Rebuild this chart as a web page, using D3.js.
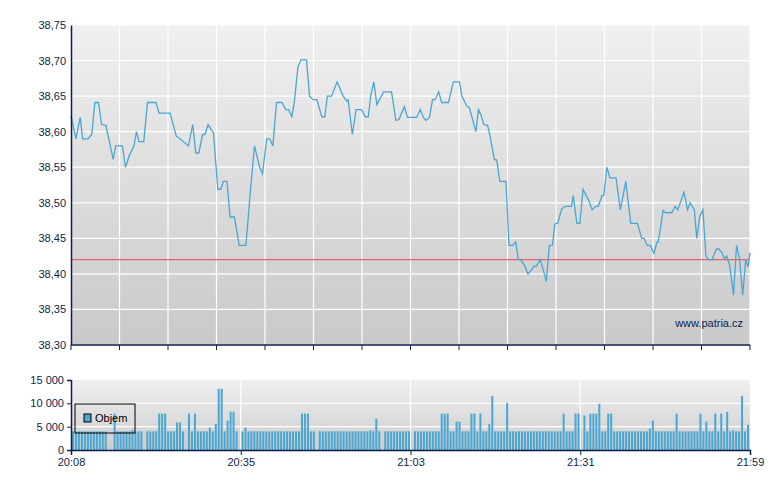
<!DOCTYPE html>
<html><head><meta charset="utf-8">
<script src="https://cdn.jsdelivr.net/npm/d3@7"></script>
<style>body{margin:0;background:#fff}svg{display:block;font-family:"Liberation Sans",Arial,sans-serif}</style>
</head><body><svg id="c" width="780" height="490"></svg>
<script>
const priceMinutes=[0,0.8,1.5,1.9,2.8,3.4,3.9,4.5,5.0,5.7,6.9,7.3,8.4,8.9,9.6,10.3,10.7,11.1,11.9,12.5,13.9,14.4,16.2,17.2,17.8,19.2,19.9,20.4,20.9,21.5,21.9,22.4,23.3,24.0,24.5,24.9,25.5,26.0,26.7,27.5,28.6,29.3,30.0,30.8,31.3,32.0,32.5,33.0,33.6,34.5,35.1,35.6,36.1,36.5,37.1,37.6,38.5,39.0,39.6,40.2,41.0,41.5,41.9,42.6,43.5,44.5,45.1,45.3,46.0,46.6,47.5,48.1,48.6,49.0,49.5,50.0,51.1,52.4,53.1,53.6,54.5,55.0,56.5,57.1,57.6,58.0,58.6,59.1,59.5,60.1,60.6,61.7,62.5,63.5,63.9,64.7,65.1,65.5,66.2,66.6,67.0,67.5,68.1,68.5,69.2,69.6,70.1,71.1,71.6,72.2,72.7,73.1,73.6,74.2,74.7,75.2,75.7,76.1,76.7,77.2,77.7,78.2,78.7,79.1,79.6,80.2,80.8,81.8,82.1,82.7,83.2,83.7,84.7,85.2,85.8,86.2,86.8,87.1,87.6,88.1,89.1,89.8,90.7,91.5,92.6,93.3,93.7,94.2,94.7,95.3,95.8,96.0,96.8,97.2,98.2,98.8,99.2,100.2,100.8,101.2,101.9,102.3,102.8,103.3,103.8,104.3,104.8,105.5,105.9,106.4,106.8,107.2,107.7,108.3,108.8,109.3,109.8,110.3,110.7,111];
const prices=[38.622,38.590,38.620,38.590,38.590,38.596,38.641,38.641,38.610,38.609,38.561,38.580,38.580,38.550,38.568,38.580,38.600,38.586,38.586,38.641,38.641,38.626,38.626,38.594,38.590,38.580,38.610,38.570,38.570,38.596,38.596,38.610,38.598,38.519,38.519,38.530,38.530,38.480,38.480,38.440,38.440,38.514,38.580,38.551,38.541,38.590,38.590,38.580,38.641,38.641,38.631,38.631,38.621,38.641,38.691,38.701,38.701,38.650,38.645,38.645,38.621,38.621,38.650,38.650,38.670,38.650,38.643,38.645,38.596,38.631,38.631,38.621,38.621,38.651,38.670,38.638,38.656,38.656,38.616,38.617,38.635,38.620,38.620,38.631,38.620,38.616,38.620,38.645,38.645,38.656,38.641,38.641,38.670,38.670,38.650,38.636,38.634,38.622,38.600,38.631,38.624,38.610,38.609,38.594,38.561,38.560,38.530,38.530,38.440,38.440,38.445,38.421,38.419,38.411,38.400,38.405,38.411,38.411,38.420,38.406,38.389,38.440,38.440,38.470,38.472,38.491,38.495,38.495,38.510,38.471,38.471,38.519,38.502,38.490,38.495,38.495,38.510,38.510,38.550,38.535,38.535,38.490,38.530,38.471,38.471,38.450,38.450,38.440,38.440,38.429,38.445,38.445,38.489,38.486,38.486,38.495,38.490,38.515,38.490,38.500,38.490,38.450,38.481,38.490,38.425,38.420,38.420,38.435,38.435,38.430,38.421,38.425,38.411,38.370,38.440,38.421,38.370,38.420,38.410,38.430];
const refPrice=38.42;
const priceTicks=[38.30,38.35,38.40,38.45,38.50,38.55,38.60,38.65,38.70,38.75];
const volumes=[4000,4000,4000,4000,4000,4000,4000,4000,4000,4000,
4000,4000,0,0,7800,4000,4000,4000,4000,4000,
4300,4000,4000,4000,0,4000,4000,4000,4000,7800,
7800,7800,4000,4000,4000,5900,5900,4000,0,7800,
4000,7800,4000,4000,4000,4000,4800,4000,5600,13100,
13100,4000,6300,8200,8200,4000,0,4000,4800,4000,
4000,4000,4000,4000,4000,4000,4000,4000,4000,4000,
4000,4000,4000,4000,4000,4000,4000,7800,7800,7800,
4000,4000,0,4000,4000,4000,4000,4000,4000,4000,
4000,4000,4000,4000,4000,4000,4000,4000,4000,4000,
4200,4000,6700,4000,0,4000,4000,4000,4000,4000,
4000,4000,4000,4000,0,4000,4000,4000,4000,4000,
4000,4000,4000,4000,7800,7800,7800,4000,4000,6100,
6100,4000,4000,4000,7800,7800,4000,7800,4000,4000,
5600,11600,4000,4000,4000,4000,10100,4000,4000,4000,
4000,4000,4000,4000,4000,4000,4000,4000,4000,4000,
4000,4000,4000,4000,4000,7800,4000,4000,4000,7800,
7800,0,7400,4000,7800,7800,7800,9900,4000,4000,
7800,7800,4000,4000,4000,4000,4000,4000,4000,4000,
4000,4000,4000,4000,4600,6300,4000,4000,4000,4000,
4000,4000,4000,7800,4000,4000,4000,4000,4000,4000,
4000,7800,4000,6100,4000,4000,7800,4000,7800,4000,
8200,4000,4200,4000,4000,11600,4000,5400];
const volTicks=[0,5000,10000,15000];
const timeLabels=["20:08","20:35","21:03","21:31","21:59"];

const svg=d3.select("#c");
const L=71,R=750,T=25,B=345,VT=380,VB=450;
const navy="#0b1f4e";
const defs=svg.append("defs");
const g1=defs.append("linearGradient").attr("id","g1").attr("x1",0).attr("x2",0).attr("y1",0).attr("y2",1);
g1.append("stop").attr("offset",0).attr("stop-color","#f0f0f0");
g1.append("stop").attr("offset",1).attr("stop-color","#c9c9c9");
const g2=defs.append("linearGradient").attr("id","g2").attr("x1",0).attr("x2",0).attr("y1",0).attr("y2",1);
g2.append("stop").attr("offset",0).attr("stop-color","#f0f0f0");
g2.append("stop").attr("offset",1).attr("stop-color","#cccccc");

const x=d3.scaleLinear().domain([0,111]).range([L,R]);
const y=d3.scaleLinear().domain([38.30,38.75]).range([B,T]);
svg.append("rect").attr("x",L).attr("y",T).attr("width",R-L).attr("height",B-T).attr("fill","url(#g1)");
// grid
priceTicks.forEach(v=>svg.append("line").attr("x1",L).attr("x2",R).attr("y1",y(v)).attr("y2",y(v)).attr("stroke","#fff").attr("stroke-width",1.2));
const vgrid=d3.range(0,15).map(i=>L+(R-L)*i/14);
vgrid.forEach(px=>{svg.append("line").attr("x1",px).attr("x2",px).attr("y1",T).attr("y2",B).attr("stroke","#fff").attr("stroke-width",1.2);
 svg.append("line").attr("x1",px).attr("x2",px).attr("y1",B).attr("y2",B+5).attr("stroke",navy);});
svg.append("line").attr("x1",L).attr("x2",R).attr("y1",y(refPrice)).attr("y2",y(refPrice)).attr("stroke","#e06666").attr("stroke-width",1.2);
const line=d3.line().x((d,i)=>x(priceMinutes[i])).y(d=>y(d));
svg.append("path").datum(prices).attr("d",line).attr("fill","none").attr("stroke","#4aa6d2").attr("stroke-width",1.3);
const ya=svg.append("g").attr("transform",`translate(${L},0)`).call(d3.axisLeft(y).tickValues(priceTicks).tickSize(0).tickPadding(5).tickFormat(d=>d3.format(".2f")(d).replace(".",",")));
ya.select(".domain").attr("stroke",navy).attr("stroke-width",1.5);
ya.selectAll("text").attr("font-size",11).attr("fill",navy).attr("font-family","Liberation Sans, Arial");
svg.append("line").attr("x1",L).attr("x2",R).attr("y1",B).attr("y2",B).attr("stroke",navy).attr("stroke-width",1.5);
svg.append("text").attr("x",743).attr("y",327).attr("text-anchor","end").attr("font-size",11).attr("fill",navy).text("www.patria.cz");

// volume
const xb=d3.scaleLinear().domain([0,volumes.length-1]).range([L+2,R-2]);
const yv=d3.scaleLinear().domain([0,15000]).range([VB,VT]);
svg.append("rect").attr("x",L).attr("y",VT).attr("width",R-L).attr("height",VB-VT).attr("fill","url(#g2)");
[5000,10000].forEach(v=>svg.append("line").attr("x1",L).attr("x2",R).attr("y1",yv(v)).attr("y2",yv(v)).attr("stroke","#fff").attr("stroke-width",1.2));
const xt=d3.scalePoint().domain(timeLabels).range([L,R]);
timeLabels.slice(1,4).forEach(t=>svg.append("line").attr("x1",xt(t)).attr("x2",xt(t)).attr("y1",VT).attr("y2",VB).attr("stroke","#fff").attr("stroke-width",1.2));
svg.selectAll(".vb").data(volumes).enter().append("rect").attr("x",(d,i)=>xb(i)-1).attr("width",2)
 .attr("y",d=>yv(d)).attr("height",d=>VB-yv(d)).attr("fill","#4aa6d2");
const va=svg.append("g").attr("transform",`translate(${L},0)`).call(d3.axisLeft(yv).tickValues(volTicks).tickSize(4).tickPadding(3).tickFormat(d=>d3.format(",")(d).replace(/,/g," ")));
va.select(".domain").attr("stroke",navy).attr("stroke-width",1.5);va.selectAll("line").attr("stroke",navy);
va.selectAll("text").attr("font-size",11).attr("fill",navy).attr("font-family","Liberation Sans, Arial");
const xa=svg.append("g").attr("transform",`translate(0,${VB})`).call(d3.axisBottom(xt).tickSize(5).tickPadding(3));
xa.select(".domain").attr("stroke",navy).attr("stroke-width",1.5);xa.selectAll("line").attr("stroke",navy);
xa.selectAll("text").attr("font-size",11).attr("fill",navy).attr("font-family","Liberation Sans, Arial");
// legend
svg.append("rect").attr("x",75).attr("y",404).attr("width",60).attr("height",29).attr("fill","none").attr("stroke","#000");
svg.append("rect").attr("x",84).attr("y",414).attr("width",7).attr("height",8).attr("fill","#4aa6d2").attr("stroke","#000");
svg.append("text").attr("x",95).attr("y",422).attr("font-size",11).attr("fill","#000").text("Objem");
</script></body></html>
